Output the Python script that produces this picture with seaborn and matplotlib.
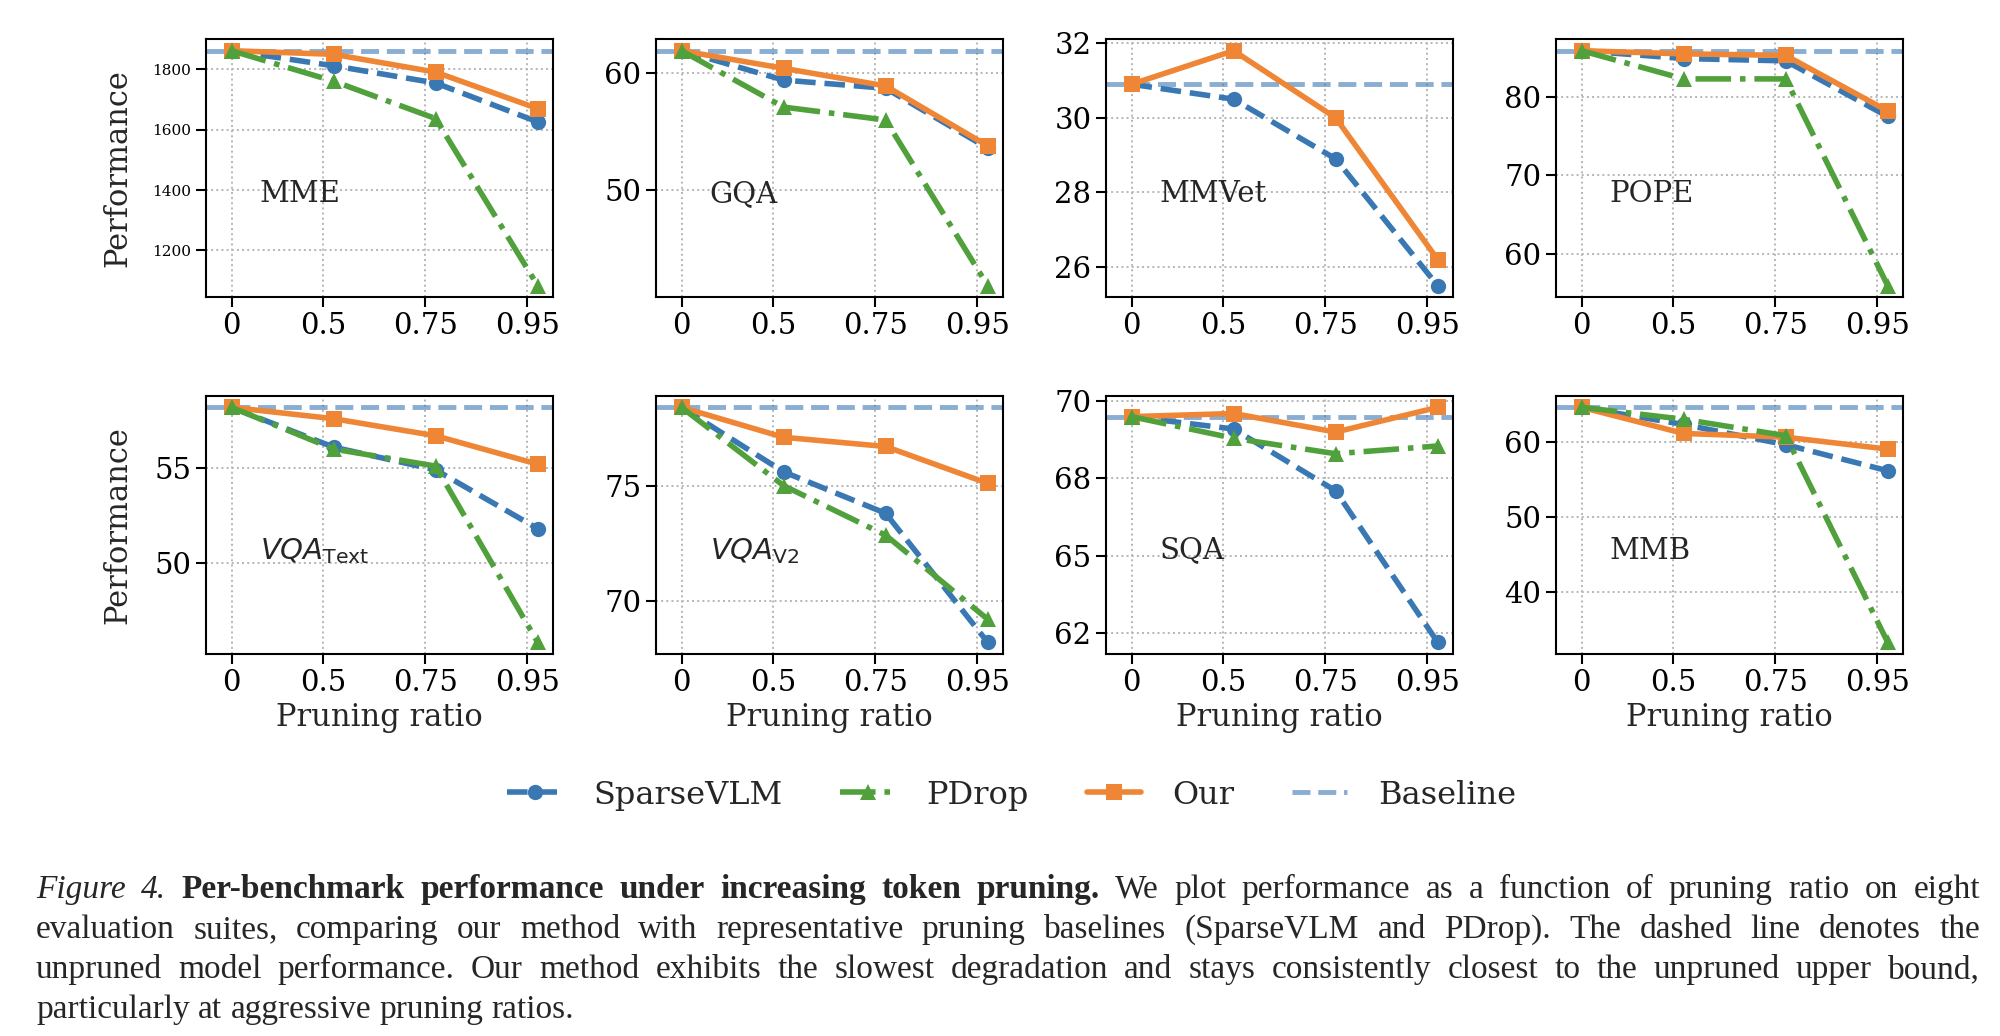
import numpy as np
import pandas as pd
import matplotlib
matplotlib.use('Agg')
import matplotlib.pyplot as plt
import seaborn as sns
from matplotlib.ticker import MaxNLocator, FormatStrFormatter

# data
ratios = ["0", "0.5", "0.75", "0.95"]
benchmarks = ["MME", "GQA", "MMVet", "POPE",
              r"$VQA_{\mathrm{Text}}$", r"$VQA_{\mathrm{V2}}$", "SQA", "MMB"]
baseline = [1862, 61.9, 30.9, 85.9, 58.2, 78.4, 69.5, 64.7]
sparsevlm = [[1862, 1812, 1755, 1626],
             [61.9, 59.4, 58.7, 53.6],
             [30.9, 30.5, 28.9, 25.5],
             [85.9, 84.9, 84.6, 77.5],
             [58.2, 56.1, 54.9, 51.8],
             [78.4, 75.6, 73.8, 68.2],
             [69.5, 69.1, 67.1, 62.2],
             [64.7, 62.4, 59.7, 56.2]]
pdrop = [[1862, 1761, 1637, 1083],
         [61.9, 57.1, 56.0, 41.9],
         None,  # no PDrop result on MMVet
         [85.9, 82.3, 82.3, 55.9],
         [58.2, 56.0, 55.1, 45.8],
         [78.4, 75.0, 72.85, 69.2],
         [69.5, 68.8, 68.3, 68.55],
         [64.7, 63.1, 60.9, 33.2]]
ours = [[1862, 1850, 1791, 1670],
        [61.9, 60.4, 58.9, 53.8],
        [30.9, 31.8, 30.0, 26.2],
        [85.9, 85.5, 85.3, 78.2],
        [58.2, 57.6, 56.7, 55.2],
        [78.4, 77.1, 76.7, 75.1],
        [69.5, 69.6, 69.0, 69.8],
        [64.7, 61.2, 60.7, 59.1]]

caption = [
    [("Figure 4.", "italic"),
     ("Per-benchmark performance under increasing token pruning.", "bold"),
     ("We plot performance as a function of pruning ratio on eight", "normal")],
    [("evaluation suites, comparing our method with representative pruning "
      "baselines (SparseVLM and PDrop). The dashed line denotes the", "normal")],
    [("unpruned model performance. Our method exhibits the slowest degradation "
      "and stays consistently closest to the unpruned upper bound,", "normal")],
    [("particularly at aggressive pruning ratios.", "normal")],
]

BLUE = "#3a78b4"
GREEN = "#50a03c"
ORANGE = "#ef8636"

sns.set_theme(style="ticks")
plt.rcParams['font.family'] = ['DejaVu Serif']
plt.rcParams['mathtext.fontset'] = 'dejavusans'
plt.rcParams['axes.edgecolor'] = 'black'
plt.rcParams['axes.linewidth'] = 1.5
plt.rcParams['xtick.color'] = 'black'
plt.rcParams['ytick.color'] = 'black'

fig, axes = plt.subplots(2, 4, figsize=(20, 10.36), dpi=100)
fig.subplots_adjust(left=0.103, right=0.9515, top=0.9624, bottom=0.3687,
                    wspace=0.297, hspace=0.38)

xpos = np.arange(len(ratios))
tick_pos = [0, 0.9, 1.9, 2.9]

for i, ax in enumerate(axes.flat):
    df = pd.DataFrame({"x": xpos, "SparseVLM": sparsevlm[i], "Our": ours[i]})
    ax.axhline(baseline[i], color=BLUE, alpha=0.6, ls="--", lw=3.5,
               label="Baseline", zorder=1.5)
    sns.lineplot(data=df, x="x", y="SparseVLM", ax=ax, color=BLUE, lw=4,
                 linestyle="--", marker="o", markersize=11, mew=0,
                 label="SparseVLM", zorder=2, legend=False)
    sns.lineplot(data=df, x="x", y="Our", ax=ax, color=ORANGE, lw=4,
                 linestyle="-", marker="s", markersize=11, mew=0,
                 label="Our", zorder=3, legend=False)
    if pdrop[i] is not None:
        df["PDrop"] = pdrop[i]
        sns.lineplot(data=df, x="x", y="PDrop", ax=ax, color=GREEN, lw=4,
                     linestyle="-.", marker="^", markersize=12, mew=0,
                     label="PDrop", zorder=4, legend=False)

    ax.set_xlim(-0.25, 3.15)
    ax.set_xticks(tick_pos)
    ax.set_xticklabels(ratios)
    ax.yaxis.set_major_locator(MaxNLocator(nbins=8 if i == 0 else 4,
                                           steps=[1, 2, 2.5, 5, 10]))
    ax.yaxis.set_major_formatter(FormatStrFormatter('%.0f'))
    ax.tick_params(axis='x', labelsize=21, length=7, width=1.5)
    ax.tick_params(axis='y', labelsize=11 if i == 0 else 21, length=7, width=1.5)
    ax.grid(True, ls=":", color="#b5b5b5", lw=1.4)
    for s in ax.spines.values():
        s.set_visible(True)
        s.set_color("black")
        s.set_linewidth(1.5)

    ax.text(0.155, 0.40, benchmarks[i], transform=ax.transAxes,
            fontsize=21, ha="left", va="center")

    ax.set_ylabel("Performance" if i % 4 == 0 else "", fontsize=22)
    ax.yaxis.set_label_coords(-0.21, 0.5)
    ax.set_xlabel("Pruning ratio" if i >= 4 else "", fontsize=22)

# legend built from the first panel (has all four series)
h, l = axes.flat[0].get_legend_handles_labels()
order = ["SparseVLM", "PDrop", "Our", "Baseline"]
hmap = dict(zip(l, h))
fig.legend([hmap[k] for k in order], order, loc="center",
           bbox_to_anchor=(0.506, 0.2326), ncol=4, frameon=False,
           fontsize=23, handlelength=1.7, handletextpad=1.0,
           columnspacing=1.8)

# caption, justified like the paper
W, H = fig.get_size_inches() * fig.dpi
renderer = fig.canvas.get_renderer()
x0, x1 = 36, 1980
baselines_px = [898, 938, 978, 1018]
styles = {"italic": dict(style="italic"), "bold": dict(weight="bold"),
          "normal": dict()}
for li, line in enumerate(caption):
    words = [(w, st) for text, st in line for w in text.split()]
    arts = [fig.text(0, 1 - baselines_px[li] / H, w, fontsize=24,
                     family="Liberation Serif", va="baseline", ha="left",
                     **styles[st]) for w, st in words]
    widths = [a.get_window_extent(renderer).width for a in arts]
    if li < len(caption) - 1:
        gap = (x1 - x0 - sum(widths)) / (len(words) - 1)
    else:
        gap = 0.25 * 24 * fig.dpi / 72
    x = x0
    for a, w in zip(arts, widths):
        a.set_x(x / W)
        x += w + gap

fig.savefig("out.png", dpi=100)
